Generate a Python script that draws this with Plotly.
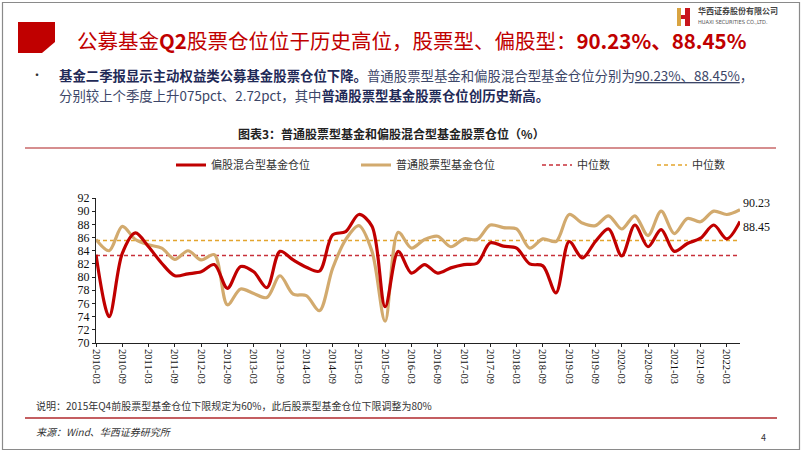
import plotly.graph_objects as go

# ---------------- data ----------------
QUARTERS = [
    "2010-03", "2010-06", "2010-09", "2010-12", "2011-03", "2011-06", "2011-09", "2011-12",
    "2012-03", "2012-06", "2012-09", "2012-12", "2013-03", "2013-06", "2013-09", "2013-12",
    "2014-03", "2014-06", "2014-09", "2014-12", "2015-03", "2015-06", "2015-09", "2015-12",
    "2016-03", "2016-06", "2016-09", "2016-12", "2017-03", "2017-06", "2017-09", "2017-12",
    "2018-03", "2018-06", "2018-09", "2018-12", "2019-03", "2019-06", "2019-09", "2019-12",
    "2020-03", "2020-06", "2020-09", "2020-12", "2021-03", "2021-06", "2021-09", "2021-12",
    "2022-03", "2022-06",
]
TICK_LABELS = QUARTERS[::2]

HYBRID_FUND = [  # 偏股混合型基金仓位
    83.4, 74.0, 83.6, 86.7, 84.6, 82.1, 80.2, 80.5, 80.8, 81.9,
    78.3, 81.6, 80.8, 78.4, 83.9, 82.6, 81.5, 80.9, 86.4, 86.9,
    89.5, 87.7, 75.5, 83.9, 80.6, 81.9, 80.6, 81.4, 81.9, 82.1,
    85.2, 84.7, 84.4, 82.0, 81.7, 77.6, 85.4, 82.9, 85.4, 87.3,
    83.2, 87.9, 84.6, 87.2, 83.9, 85.1, 85.9, 87.9, 85.8, 88.45,
]
STOCK_FUND = [  # 普通股票型基金仓位
    85.7, 84.0, 87.7, 85.7, 84.9, 84.4, 82.7, 84.0, 82.6, 83.4,
    75.8, 78.2, 77.5, 76.9, 80.2, 77.4, 77.2, 74.9, 81.3, 85.7,
    87.8, 83.9, 73.3, 86.8, 84.4, 85.7, 86.2, 84.6, 85.8, 85.7,
    87.9, 87.5, 87.3, 84.4, 85.8, 85.4, 89.5, 88.2, 87.8, 89.3,
    87.3, 89.3, 86.3, 90.0, 86.6, 88.9, 88.4, 90.0, 89.5, 90.23,
]
HYBRID_MEDIAN = 83.27
STOCK_MEDIAN = 85.55

SERIES_NAMES = ["偏股混合型基金仓位", "普通股票型基金仓位", "中位数", "中位数"]

# ---------------- helpers ----------------
W, H = 802, 452
def X(px):
    return px / W
def Y(py):
    return 1 - py / H

RED = "#C00000"
TAN = "#D2AA6E"
RED_MED = "#C8303A"
TAN_MED = "#E3A52E"
CJK = "Noto Sans CJK SC"
SERIF = "Liberation Serif"

fig = go.Figure()

# median lines
fig.add_trace(go.Scatter(
    x=[QUARTERS[0], QUARTERS[-1]], y=[HYBRID_MEDIAN, HYBRID_MEDIAN], mode="lines",
    name=SERIES_NAMES[2], line=dict(color=RED_MED, width=1.5, dash="4px,3px"),
    legend="legend3", hoverinfo="skip"))
fig.add_trace(go.Scatter(
    x=[QUARTERS[0], QUARTERS[-1]], y=[STOCK_MEDIAN, STOCK_MEDIAN], mode="lines",
    name=SERIES_NAMES[3], line=dict(color=TAN_MED, width=1.5, dash="4px,3px"),
    legend="legend4", hoverinfo="skip"))

# series
fig.add_trace(go.Scatter(
    x=QUARTERS, y=STOCK_FUND, mode="lines", name=SERIES_NAMES[1],
    line=dict(color=TAN, width=3.2, shape="spline", smoothing=0.9),
    legend="legend2"))
fig.add_trace(go.Scatter(
    x=QUARTERS, y=HYBRID_FUND, mode="lines", name=SERIES_NAMES[0],
    line=dict(color=RED, width=3.2, shape="spline", smoothing=0.9),
    legend="legend"))

leg_common = dict(orientation="h", yanchor="middle", xanchor="left",
                  bgcolor="rgba(0,0,0,0)", font=dict(family=CJK, size=11, color="#333333"),
                  itemwidth=30, tracegroupgap=0)

annotations = [
    # slide title
    dict(x=X(76), y=Y(40), xanchor="left", yanchor="middle",
         text="公募基金<b>Q2</b>股票仓位位于历史高位，股票型、偏股型：<b>90.23%、88.45%</b>",
         font=dict(family=CJK, size=20.5, color=RED), borderpad=0),
    # logo text
    dict(x=X(697), y=Y(11), xanchor="left", yanchor="middle", text="<b>华西证券股份有限公司</b>",
         font=dict(family=CJK, size=8, color="#444444"), borderpad=0),
    dict(x=X(697), y=Y(21.5), xanchor="left", yanchor="middle", text="HUAXI SECURITIES CO.,LTD.",
         font=dict(family="DejaVu Sans Condensed, DejaVu Sans", size=5.6, color="#555555"), borderpad=0),
    # bullet
    dict(x=X(29), y=Y(75), xanchor="left", yanchor="middle", text="•",
         font=dict(family=CJK, size=12, color="#333333")),
    dict(x=X(57), y=Y(75), xanchor="left", yanchor="middle",
         text="<b><span style='color:#1F2A57'>基金二季报显示主动权益类公募基金股票仓位下降。</span></b>"
              "普通股票型基金和偏股混合型基金仓位分别为<u>90.23%、88.45%</u>，",
         font=dict(family=CJK, size=13.4, color="#3C4668")),
    dict(x=X(57), y=Y(95), xanchor="left", yanchor="middle",
         text="分别较上个季度上升075pct、2.72pct，其中"
              "<b><span style='color:#1F2A57'>普通股票型基金股票仓位创历史新高。</span></b>",
         font=dict(family=CJK, size=13.4, color="#3C4668")),
    # chart title
    dict(x=X(391), y=Y(133), xanchor="center", yanchor="middle",
         text="<b>图表3：普通股票型基金和偏股混合型基金股票仓位（%）</b>",
         font=dict(family=CJK, size=12, color="#222222")),
    # end labels
    dict(x=QUARTERS[-1], y=STOCK_FUND[-1], xref="x", yref="y", xanchor="left", yanchor="middle",
         xshift=1, yshift=7, text=f"{STOCK_FUND[-1]:.2f}", showarrow=False,
         font=dict(family=SERIF, size=12, color="#111111")),
    dict(x=QUARTERS[-1], y=HYBRID_FUND[-1], xref="x", yref="y", xanchor="left", yanchor="middle",
         xshift=1, yshift=-6, text=f"{HYBRID_FUND[-1]:.2f}", showarrow=False,
         font=dict(family=SERIF, size=12, color="#111111")),
    # notes
    dict(x=X(34), y=Y(405), xanchor="left", yanchor="middle",
         text="说明：2015年Q4前股票型基金仓位下限规定为60%，此后股票型基金仓位下限调整为80%",
         font=dict(family=CJK, size=10, color="#333333")),
    dict(x=X(34), y=Y(431), xanchor="left", yanchor="middle",
         text="<i>来源：Wind、华西证券研究所</i>",
         font=dict(family=CJK, size=10, color="#333333")),
    dict(x=X(763), y=Y(437), xanchor="center", yanchor="middle", text="4",
         font=dict(family=CJK, size=9, color="#333333")),
]
for a in annotations:
    a.setdefault("xref", "paper")
    a.setdefault("yref", "paper")
    a.setdefault("showarrow", False)

shapes = [
    # slide border
    dict(type="rect", xref="paper", yref="paper", x0=X(2.5), x1=X(799.5), y0=Y(449.5), y1=Y(2.5),
         line=dict(color="#8A8A8A", width=1.2), fillcolor="rgba(0,0,0,0)", layer="below"),
    # red title block with chamfered corner
    dict(type="path", xref="paper", yref="paper",
         path=f"M {X(18)},{Y(22)} L {X(55)},{Y(22)} L {X(55)},{Y(42)} L {X(42)},{Y(53)} L {X(18)},{Y(53)} Z",
         fillcolor=RED, line=dict(width=0)),
    # logo icon
    dict(type="rect", xref="paper", yref="paper", x0=X(677), x1=X(681), y0=Y(26), y1=Y(8),
         fillcolor="#D9A441", line=dict(width=0)),
    dict(type="rect", xref="paper", yref="paper", x0=X(681), x1=X(686), y0=Y(19), y1=Y(15),
         fillcolor="#C8161D", line=dict(width=0)),
    dict(type="rect", xref="paper", yref="paper", x0=X(685), x1=X(690), y0=Y(26), y1=Y(8),
         fillcolor="#C8161D", line=dict(width=0)),
    # separator under chart title
    dict(type="line", xref="paper", yref="paper", x0=X(25), x1=X(776), y0=Y(148), y1=Y(148),
         line=dict(color="#C9686A", width=1.5)),
    # red rule above source
    dict(type="line", xref="paper", yref="paper", x0=X(25), x1=X(777), y0=Y(418), y1=Y(418),
         line=dict(color="#B0282C", width=1.3)),
]

fig.update_layout(
    width=W, height=H,
    margin=dict(l=0, r=0, t=0, b=0),
    paper_bgcolor="white", plot_bgcolor="white",
    template="none",
    showlegend=True,
    legend=dict(x=X(171), y=Y(165), **leg_common),
    legend2=dict(x=X(356), y=Y(165), **leg_common),
    legend3=dict(x=X(537), y=Y(165), **leg_common),
    legend4=dict(x=X(652), y=Y(165), **leg_common),
    xaxis=dict(domain=[X(96), X(740)], type="category", categoryorder="array",
               categoryarray=QUARTERS, range=[0, len(QUARTERS) - 1],
               tickmode="array", tickvals=TICK_LABELS, ticktext=TICK_LABELS,
               tickangle=90, ticks="outside", ticklen=3, tickcolor="#222222",
               showline=True, linecolor="#222222", linewidth=1, showgrid=False, zeroline=False,
               tickfont=dict(family=SERIF, size=10.5, color="#111111")),
    yaxis=dict(domain=[Y(343), Y(198)], range=[70, 92], dtick=2, tick0=70,
               ticks="outside", ticklen=3, tickcolor="#222222",
               showline=True, linecolor="#222222", linewidth=1, showgrid=False, zeroline=False,
               tickfont=dict(family=SERIF, size=12, color="#111111")),
    annotations=annotations,
    shapes=shapes,
    hovermode=False,
)

fig.write_html("out.html")
